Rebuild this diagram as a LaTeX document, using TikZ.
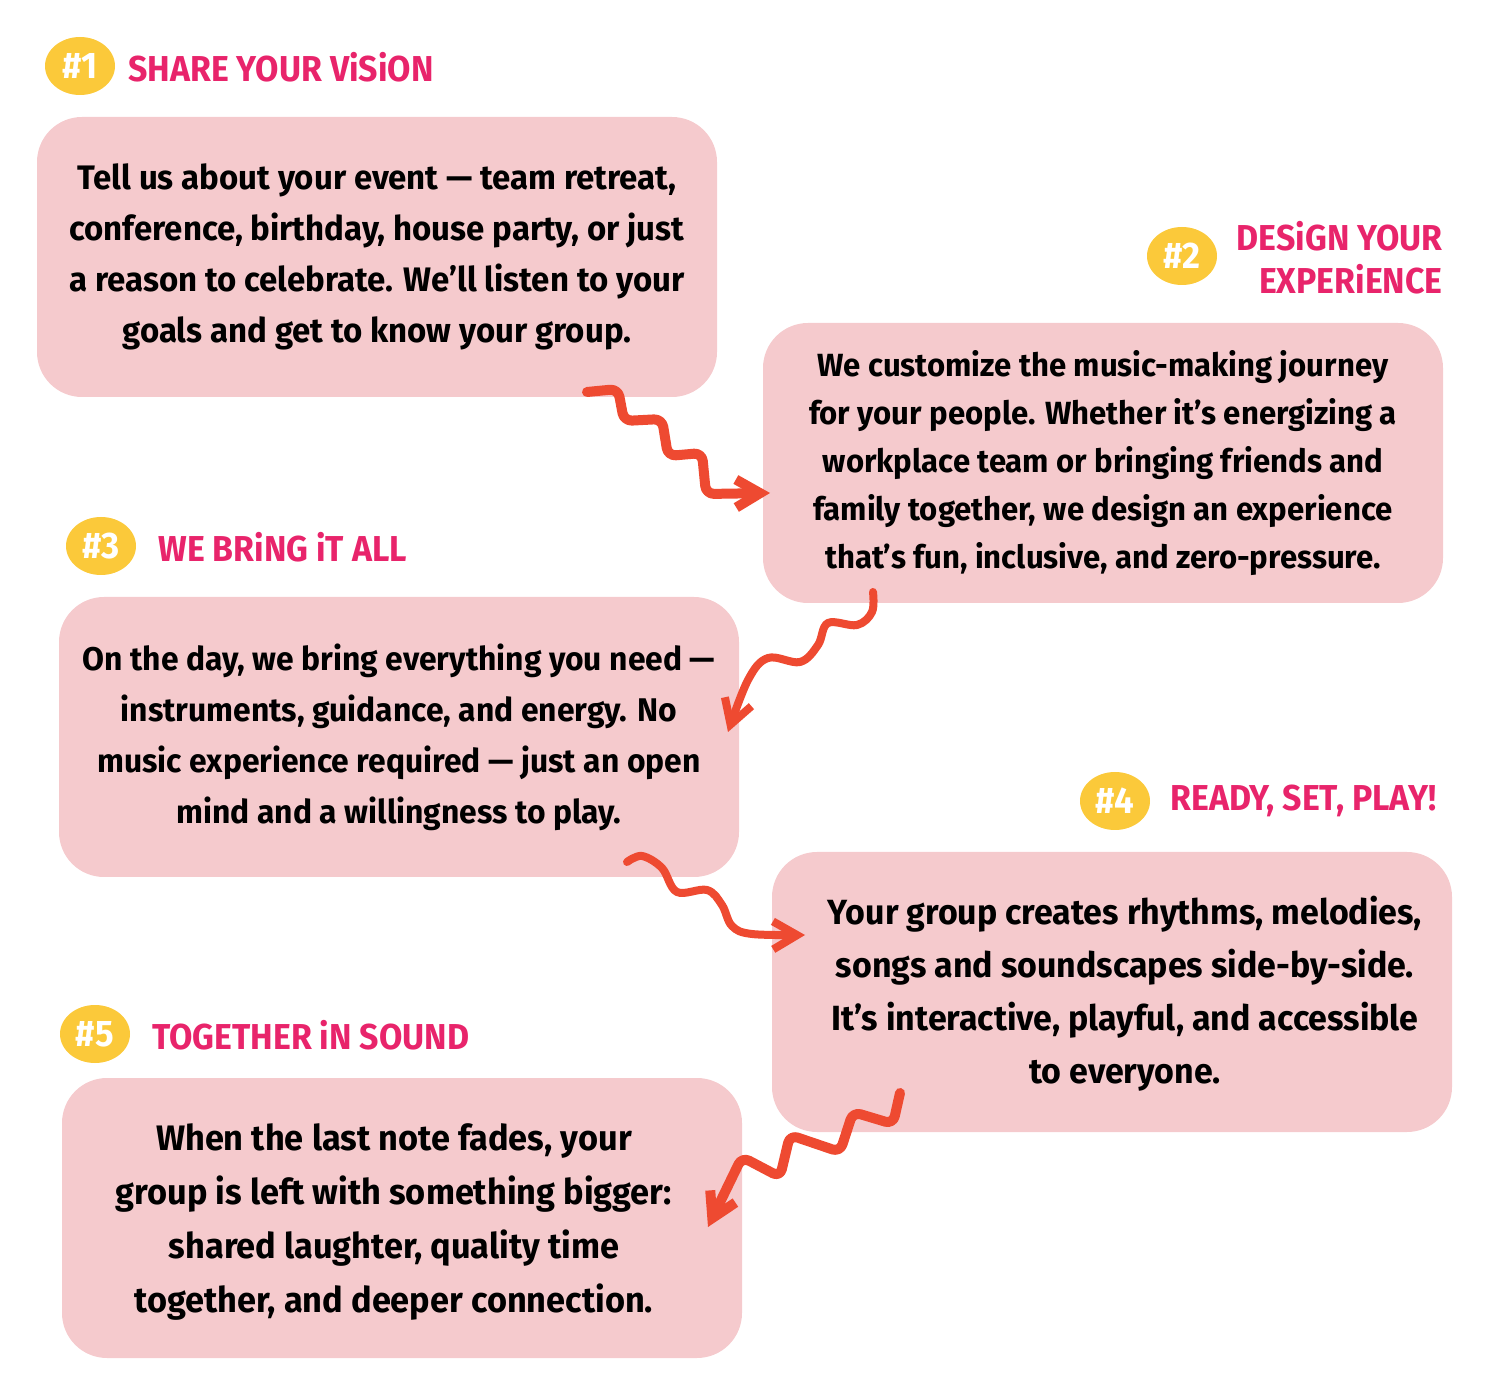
\documentclass[tikz,border=0pt]{standalone}
\usepackage{fontspec}
\setmainfont{Fira Sans}[FakeStretch=0.97]
\newfontfamily\headfont{Fira Sans}[FakeStretch=0.94]
\usetikzlibrary{arrows.meta, shapes.geometric}

\definecolor{boxpink}{HTML}{F5CACD}
\definecolor{headpink}{HTML}{E8246B}
\definecolor{badgeyellow}{HTML}{FBC93A}
\definecolor{arrowred}{HTML}{EE4A31}

\tikzset{
  stepcard/.style={fill=boxpink, rounded corners=22.5pt, minimum width=340pt, minimum height=140pt, align=center, inner sep=0pt},
  cardtext/.style={align=center, inner sep=0pt},
  badge/.style={ellipse, fill=badgeyellow, minimum width=35pt, minimum height=29pt, inner sep=0pt, text=white, font=\headfont\bfseries\fontsize{18.5}{18.5}\selectfont},
  heading/.style={text=headpink, font=\headfont\bfseries\fontsize{18}{21.5}\selectfont, inner sep=0pt},
  squiggle/.style={draw=arrowred, line width=5pt, line cap=round, line join=round, -{Straight Barb[length=12pt, width=14pt]}}
}

\begin{document}
\begin{tikzpicture}[x=0.5pt, y=-0.5pt]
\useasboundingbox (0,0) rectangle (1500,1400);

% cards
\node[stepcard, font=\bfseries\fontsize{17}{25.5}\selectfont] (card1) at (377,257) {Tell us about your event — team retreat,\\ conference, birthday, house party, or just\\ a reason to celebrate. We’ll listen to your\\ goals and get to know your group.};
\node[stepcard, font=\bfseries\fontsize{16.05}{24}\selectfont] (card2) at (1103,463) {We customize the music-making journey\\ for your people. Whether it’s energizing a\\ workplace team or bringing friends and\\ family together, we design an experience\\ that’s fun, inclusive, and zero-pressure.};
\node[stepcard, font=\bfseries\fontsize{16.4}{25.5}\selectfont] (card3) at (399,737) {On the day, we bring everything you need —\\ instruments, guidance, and energy. No\\ music experience required — just an open\\ mind and a willingness to play.};
\node[stepcard] (card4) at (1112,992) {};
\node[cardtext, font=\bfseries\fontsize{17.5}{26.5}\selectfont] (text4) at ([xshift=6.5pt, yshift=-1pt]card4.center) {Your group creates rhythms, melodies,\\ songs and soundscapes side-by-side.\\ It’s interactive, playful, and accessible\\ to everyone.};
\node[stepcard] (card5) at (402,1218) {};
\node[cardtext, font=\bfseries\fontsize{17.7}{27}\selectfont] (text5) at ([xshift=-4pt, yshift=-2pt]card5.center) {When the last note fades, your\\ group is left with something bigger:\\ shared laughter, quality time\\ together, and deeper connection.};

% badges and headings
\node[badge] (badge1) at (80,66) {\#1};
\node[heading, anchor=west] (head1) at (128,67) {SHARE YOUR ViSiON};
\node[badge] (badge2) at (1182,256) {\#2};
\node[heading, anchor=east, align=right] (head2) at (1443,258) {DESiGN YOUR\\ EXPERiENCE};
\node[badge] (badge3) at (101,546) {\#3};
\node[heading, anchor=west] (head3) at (158,547) {WE BRiNG iT ALL};
\node[badge] (badge4) at (1115,801) {\#4};
\node[heading, anchor=west] (head4) at (1170,801) {READY, SET, PLAY!};
\node[badge] (badge5) at (95,1034) {\#5};
\node[heading, anchor=west] (head5) at (152,1035) {TOGETHER iN SOUND};

% arrow ends
\coordinate (a1s) at (587,392);
\coordinate (a1e) at (770,493);
\coordinate (a2s) at (873,592);
\coordinate (a2e) at (728,732);
\coordinate (a3s) at (627,862);
\coordinate (a3e) at (805,935);
\coordinate (a4s) at (900,1093);
\coordinate (a4e) at (708,1227);

% arrows
\draw[squiggle, rounded corners=4pt] (a1s) -- (618,389) -- (624,421) -- (662,419) -- (668,456) -- (702,453) -- (706,494) -- (a1e);
\draw[squiggle, line width=4pt] plot[smooth, tension=0.6] coordinates {(a2s) (872,612) (857,625) (828,623) (818,645) (800,662) (768,658) (748,680) (a2e)};
\draw[squiggle, line width=4pt] plot[smooth, tension=0.6] coordinates {(a3s) (642,856) (662,868) (677,892) (707,890) (722,905) (732,926) (752,934) (a3e)};
\draw[squiggle, rounded corners=4pt] (a4s) -- (893,1124) -- (853,1112) -- (840,1152) -- (790,1135) -- (780,1177) -- (742,1157) -- (a4e);

\end{tikzpicture}
\end{document}
